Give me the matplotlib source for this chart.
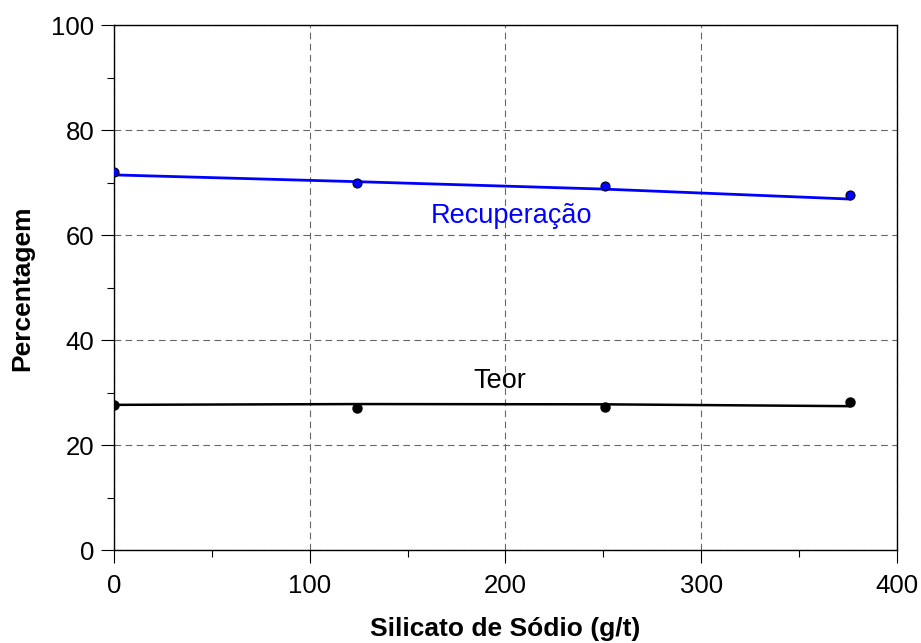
import matplotlib.pyplot as plt
from matplotlib.ticker import MultipleLocator

plt.rcParams['font.family'] = ['Liberation Sans', 'DejaVu Sans']

# ensaios: dosagem de silicato de sodio (g/t)
silicato = [0, 124, 251, 376]
recuperacao = [72.1, 70.0, 69.4, 67.7]
teor = [27.6, 27.1, 27.2, 28.2]

# curvas de ajuste
ajuste_x = [0, 125, 250, 376]
ajuste_rec = [71.5, 70.2, 68.8, 66.9]
ajuste_teor = [27.7, 27.85, 27.8, 27.45]

fig = plt.figure(figsize=(9.21, 6.43), dpi=100)
ax = fig.add_axes([0.1238, 0.1442, 0.8501, 0.8165])

ax.plot(ajuste_x, ajuste_rec, color='#0000ff', lw=2.0, zorder=3)
ax.plot(ajuste_x, ajuste_teor, color='black', lw=1.8, zorder=3)
ax.plot(silicato, recuperacao, 'o', color='#0000ff', mec='black', mew=0.8, ms=6.5, zorder=4)
ax.plot(silicato, teor, 'o', color='black', mec='black', ms=6.5, zorder=4)

ax.text(203, 62.3, 'Recuperação', color='#0000ff', fontsize=19.5, ha='center', va='baseline')
ax.text(197.2, 30.9, 'Teor', color='black', fontsize=19.5, ha='center', va='baseline')

ax.set_xlim(0, 400)
ax.set_ylim(0, 100)
ax.xaxis.set_major_locator(MultipleLocator(100))
ax.xaxis.set_minor_locator(MultipleLocator(50))
ax.yaxis.set_major_locator(MultipleLocator(20))
ax.yaxis.set_minor_locator(MultipleLocator(10))
ax.tick_params(which='major', direction='out', length=9.5, width=0.8, labelsize=18.5)
ax.tick_params(axis='x', which='major', pad=7.5)
ax.tick_params(axis='y', which='major', pad=4.8)
ax.tick_params(which='minor', direction='out', length=5, width=0.8)
ax.grid(True, which='major', color='#666666', linestyle=(0, (6, 4)), lw=0.8)
for s in ax.spines.values():
    s.set_linewidth(1.0)

ax.set_xlabel('Silicato de Sódio (g/t)', fontsize=19, fontweight='bold', labelpad=14)
ax.set_ylabel('Percentagem', fontsize=19, fontweight='bold', labelpad=12)

fig.savefig('out.png', dpi=100)
